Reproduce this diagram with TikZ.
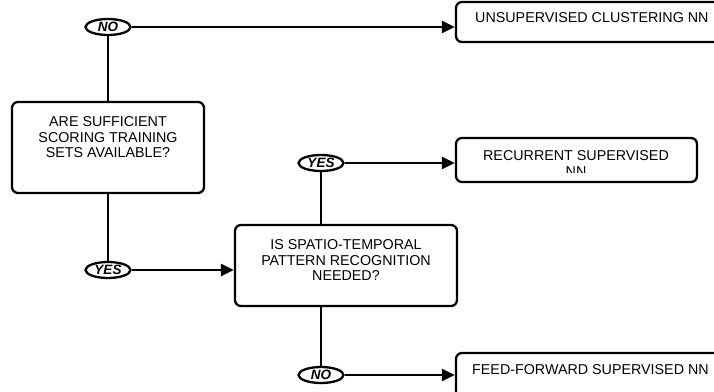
\documentclass[tikz,border=0pt]{standalone}
\usepackage{fontspec}
\setmainfont{Liberation Sans}
\usetikzlibrary{arrows.meta,shapes.geometric}
\begin{document}
\begin{tikzpicture}[x=1pt,y=-1pt,
  every node/.style={font=\fontsize{14.3}{15.5}\selectfont},
  proc/.style={draw,line width=2.3pt,rounded corners=6pt,inner sep=0pt},
  answer/.style={draw,ellipse,line width=2.3pt,inner sep=0pt,
    minimum width=45,minimum height=16,
    font=\fontsize{13.5}{14}\selectfont\bfseries\itshape},
  link/.style={line width=2.3pt},
  flow/.style={line width=2.3pt,-{Triangle[length=13pt,width=12pt]}},
  txt/.style={align=center,inner sep=0pt}]
\useasboundingbox[clip] (0,0) rectangle (714,391);

% decision boxes
\node[proc,minimum width=192,minimum height=91] (q1) at (108,147.5) {};
\node[txt] at (108,137.5) {ARE SUFFICIENT\\SCORING TRAINING\\SETS AVAILABLE?};
\node[proc,minimum width=222,minimum height=81] (q2) at (346,265.5) {};
\node[txt] at (346,260.5) {IS SPATIO-TEMPORAL\\PATTERN RECOGNITION\\NEEDED?};

% outcome boxes
\node[proc,minimum width=270,minimum height=40] (unsup) at (591,22) {};
\node[txt,anchor=west] at (475,18) {UNSUPERVISED CLUSTERING NN};
\node[proc,minimum width=241,minimum height=44] (rec) at (576.5,160) {};
\node[txt] at (576,156) {RECURRENT SUPERVISED};
\begin{scope}
  \clip (540,166.5) rectangle (610,172);
  \node[txt] at (576,172) {NN};
\end{scope}
\node[proc,minimum width=270,minimum height=60] (ff) at (591,383) {};
\node[txt,anchor=west] at (472,370) {FEED-FORWARD SUPERVISED NN};

% yes / no answers
\node[answer] (no1) at (108,27) {NO};
\node[answer] (yes1) at (108,270) {YES};
\node[answer] (yes2) at (321,163) {YES};
\node[answer] (no2) at (321,375) {NO};

% connectors
\draw[link] (no1) -- (q1);
\draw[flow] (no1.east) -- (no1.east -| unsup.west);
\draw[link] (q1) -- (yes1);
\draw[flow] (yes1.east) -- (yes1.east -| q2.west);
\draw[link] (yes2) -- (yes2 |- q2.north);
\draw[flow] (yes2.east) -- (yes2.east -| rec.west);
\draw[link] (yes2 |- q2.south) -- (no2);
\draw[flow] (no2.east) -- (no2.east -| ff.west);
\end{tikzpicture}
\end{document}
